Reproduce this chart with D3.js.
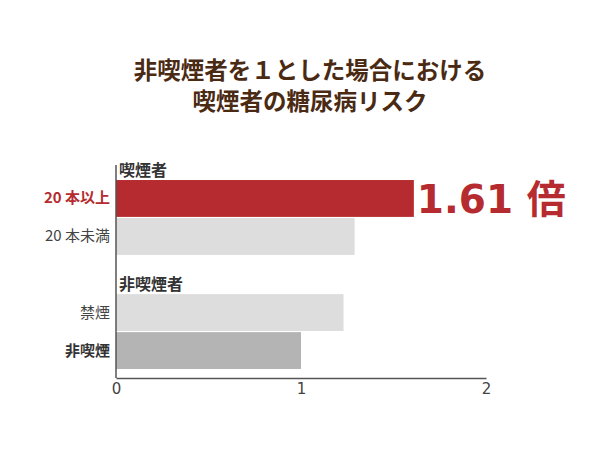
<!DOCTYPE html>
<html><head><meta charset="utf-8">
<script src="https://cdn.jsdelivr.net/npm/d3@7"></script>
<style>body{margin:0;background:#fff}svg{display:block}</style>
</head><body>
<svg id="c" width="600" height="450"></svg>
<script>
const titleLines = ["非喫煙者を１とした場合における", "喫煙者の糖尿病リスク"];
const slots = ["h1", "20 本以上", "20 本未満", "h2", "禁煙", "非喫煙"];
const groupHeaders = [{slot: "h1", label: "喫煙者"}, {slot: "h2", label: "非喫煙者"}];
const categories = ["20 本以上", "20 本未満", "禁煙", "非喫煙"];
const values = [1.61, 1.29, 1.23, 1.0];
const barColors = ["#b52b2f", "#dddddd", "#dddddd", "#b4b4b4"];
const labelColors = ["#b52b2f", "#444", "#444", "#333"];
const labelWeights = ["bold", "normal", "normal", "bold"];
const xTicks = [0, 1, 2];
const valueLabel = "1.61 倍";

const svg = d3.select("#c");
const font = "'Noto Sans CJK JP','Noto Sans',sans-serif";
const latinFont = "'DejaVu Sans','Noto Sans CJK JP',sans-serif";

const x = d3.scaleLinear().domain([0, 2]).range([116, 486]);
const y = d3.scaleBand().domain(slots).range([142, 369]).paddingInner(0.03).paddingOuter(0);

svg.append("g").selectAll("text").data(titleLines).join("text")
  .attr("x", 310).attr("y", (d, i) => 79 + i * 31)
  .attr("text-anchor", "middle").attr("font-family", font).attr("font-weight", "bold")
  .attr("font-size", 23.5).attr("fill", "#4a2a12").text(d => d);

const data = categories.map((c, i) => ({c, v: values[i], color: barColors[i], lc: labelColors[i], lw: labelWeights[i]}));

svg.append("g").selectAll("rect").data(data).join("rect")
  .attr("x", x(0)).attr("y", d => y(d.c)).attr("height", y.bandwidth())
  .attr("width", d => x(d.v) - x(0)).attr("fill", d => d.color);

svg.append("g").selectAll("text").data(data).join("text")
  .attr("x", 110).attr("y", d => y(d.c) + y.bandwidth() / 2 + 5)
  .attr("text-anchor", "end").attr("font-family", font).attr("font-size", 15)
  .attr("font-weight", d => d.lw).attr("fill", d => d.lc).text(d => d.c);

svg.append("g").selectAll("text").data(groupHeaders).join("text")
  .attr("x", 119).attr("y", d => y(d.slot) + y.bandwidth() - 3)
  .attr("font-family", font).attr("font-size", 16).attr("font-weight", "bold")
  .attr("fill", "#333").text(d => d.label);

svg.append("text")
  .attr("x", x(values[0]) + 3).attr("y", y(categories[0]) + y.bandwidth() / 2 + 15)
  .attr("font-family", latinFont).attr("font-size", 39).attr("font-weight", "bold")
  .attr("fill", "#b52b2f").text(valueLabel);

// axes
svg.append("line").attr("x1", x(0)).attr("x2", x(0)).attr("y1", 165).attr("y2", 378)
  .attr("stroke", "#555").attr("stroke-width", 1.5);
const ax = svg.append("g").attr("transform", "translate(0,378)")
  .call(d3.axisBottom(x).tickValues(xTicks).tickSize(0).tickPadding(5).tickFormat(d3.format("d")));
ax.select(".domain").attr("stroke", "#555").attr("stroke-width", 1.5);
ax.selectAll("text").attr("font-family", latinFont).attr("font-size", 15).attr("fill", "#444");
</script>
</body></html>
